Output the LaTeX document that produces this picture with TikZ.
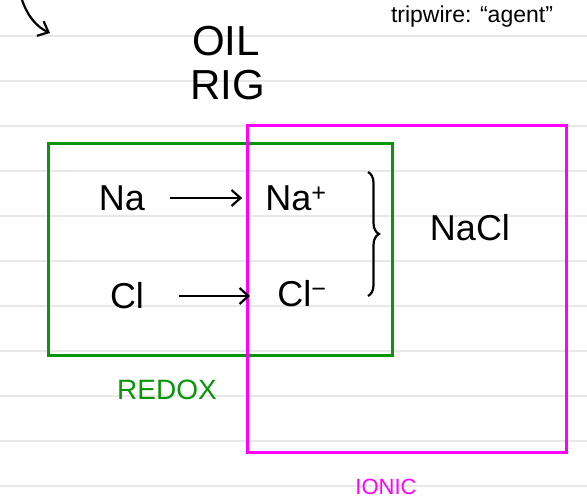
\documentclass[tikz,border=0pt]{standalone}
\usepackage{fontspec}
\setmainfont{Liberation Sans}
\usetikzlibrary{positioning,arrows.meta,decorations.pathreplacing,calc}

\definecolor{redoxgreen}{RGB}{10,150,10}
\definecolor{ionicpink}{RGB}{255,0,255}
\definecolor{ruleline}{RGB}{232,232,232}

\begin{document}
\begin{tikzpicture}[
  x=1pt, y=-1pt,
  hand/.style={font=\fontsize{36}{38}\selectfont, inner sep=1pt},
  big/.style={font=\fontsize{42}{44}\selectfont, inner sep=1pt},
  note/.style={font=\fontsize{23}{25}\selectfont, inner sep=1pt},
  ruled/.style={draw=ruleline, line width=1.5pt},
  box/.style={line width=3pt},
  rxn/.style={->, line width=2.2pt},
  >={Straight Barb[length=9pt, width=16pt]}
]
\useasboundingbox (0,0) rectangle (587,500);

% ruled paper
\foreach \ly in {36,81,...,486}
  \draw[ruled] (0,\ly) -- (587,\ly);

% heading
\node[big] (oil) at (226,41) {OIL};
\node[big] (rig) at (228,85) {RIG};
\node[note] (tag) at (472,17) {tripwire: “agent”};

\coordinate (swoopstart) at (22,0);
\coordinate (swoopend) at (50,33);
\draw[->, line width=2.2pt] (swoopstart) .. controls (28,17) and (37,27) .. (swoopend);

% the two boxes
\draw[box, draw=redoxgreen] (48,144) rectangle (392,355);
\draw[box, draw=ionicpink] (247,126) rectangle (566,452);

% reactions
\node[hand] (na) at (122,198) {Na};
\node[hand] (naplus) at (296,198) {Na\textsuperscript{+}};
\node[hand] (cl) at (127,296) {Cl};
\node[hand] (clminus) at (302,294) {Cl\textsuperscript{−}};

\draw[rxn, shorten <=24pt, shorten >=22pt] (na.east) -- (na.east -| naplus.west);
\draw[rxn, shorten <=34pt, shorten >=26pt] (cl.east) -- (cl.east -| clminus.west);

\coordinate (bracetop) at (368,172);
\coordinate (bracebot) at (368,296);
\draw[decorate, decoration={brace, amplitude=11pt}, line width=2.2pt] (bracetop) -- (bracebot);

\node[hand] (nacl) at (470,228) {NaCl};

% labels
\node[note, font=\fontsize{28}{30}\selectfont, text=redoxgreen] (redox) at (167,390) {REDOX};
\node[note, font=\fontsize{22}{24}\selectfont, text=ionicpink] (ionic) at (386,487) {IONIC};
\end{tikzpicture}
\end{document}
